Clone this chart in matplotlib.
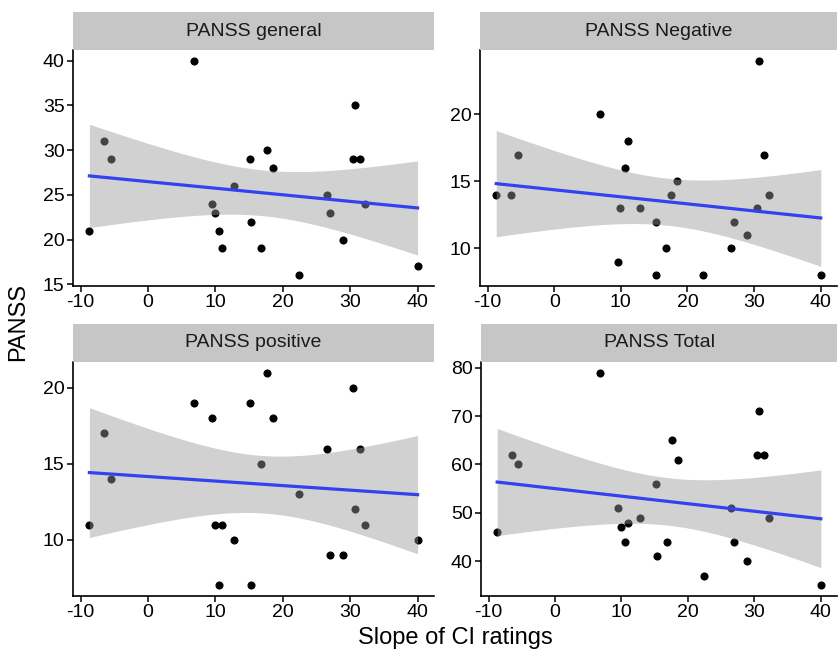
import numpy as np
import matplotlib
matplotlib.use("Agg")
import matplotlib.pyplot as plt

plt.rcParams['font.family'] = ['Liberation Sans', 'DejaVu Sans']
plt.rcParams['axes.unicode_minus'] = False

# slope of CI ratings (same subjects in every panel)
slope = [-8.7, -6.5, -5.5, 6.8, 9.5, 9.9, 10.6, 11.0, 12.8, 15.2, 15.3, 16.8,
         17.6, 18.5, 22.4, 26.5, 27.0, 28.9, 30.4, 30.7, 31.5, 32.2, 40.0]

panss_general = [21, 31, 29, 40, 24, 23, 21, 19, 26, 29, 22, 19,
                 30, 28, 16, 25, 23, 20, 29, 35, 29, 24, 17]
panss_negative = [14, 14, 17, 20, 9, 13, 16, 18, 13, 8, 12, 10,
                  14, 15, 8, 10, 12, 11, 13, 24, 17, 14, 8]
panss_positive = [11, 17, 14, 19, 18, 11, 7, 11, 10, 19, 7, 15,
                  21, 18, 13, 16, 9, 9, 20, 12, 16, 11, 10]
panss_total = [46, 62, 60, 79, 51, 47, 44, 48, 49, 56, 41, 44,
               65, 61, 37, 51, 44, 40, 62, 71, 62, 49, 35]

titles = ["PANSS general", "PANSS Negative", "PANSS positive", "PANSS Total"]
series = [panss_general, panss_negative, panss_positive, panss_total]
yticks = [[15, 20, 25, 30, 35, 40], [10, 15, 20], [10, 15, 20], [40, 50, 60, 70, 80]]
xticks = [-10, 0, 10, 20, 30, 40]

W, H = 838, 659
# panel boxes in pixels: left, right, top, bottom
boxes = [(73, 434, 50, 286), (480, 837, 50, 286),
         (73, 434, 362, 596), (481, 837, 362, 596)]
strip_h = 38

T975 = 2.0796  # t quantile, df = 21


def lm_band(x, y, xs):
    x = np.asarray(x, float)
    y = np.asarray(y, float)
    n = len(x)
    b, a = np.polyfit(x, y, 1)
    res = y - (a + b * x)
    s = np.sqrt(np.sum(res ** 2) / (n - 2))
    sxx = np.sum((x - x.mean()) ** 2)
    fit = a + b * xs
    se = s * np.sqrt(1.0 / n + (xs - x.mean()) ** 2 / sxx)
    return fit, fit - T975 * se, fit + T975 * se


fig = plt.figure(figsize=(W / 100, H / 100), dpi=100)

x = np.asarray(slope, float)
xs = np.linspace(x.min(), x.max(), 100)
xr = x.max() - x.min()

for i in range(4):
    l, r, t, b = boxes[i]
    ax = fig.add_axes([l / W, 1 - b / H, (r - l) / W, (b - t) / H])
    y = np.asarray(series[i], float)
    fit, lo, hi = lm_band(x, y, xs)

    ax.scatter(x, y, s=34, color='black', zorder=2, linewidths=0)
    ax.fill_between(xs, lo, hi, color='#999999', alpha=0.45, linewidth=0, zorder=3)
    ax.plot(xs, fit, color='#3341F0', lw=2.3, zorder=4)

    ymin = min(y.min(), lo.min())
    ymax = max(y.max(), hi.max())
    yr = ymax - ymin
    ax.set_xlim(x.min() - 0.05 * xr, x.max() + 0.05 * xr)
    ax.set_ylim(ymin - 0.05 * yr, ymax + 0.05 * yr)
    ax.set_xticks(xticks)
    ax.set_yticks(yticks[i])
    for sp in ['top', 'right']:
        ax.spines[sp].set_visible(False)
    for sp in ['left', 'bottom']:
        ax.spines[sp].set_linewidth(1.2)
    ax.tick_params(direction='out', length=4, width=1.1, labelsize=14,
                   colors='black', pad=2)

    # strip
    sax = fig.add_axes([l / W, 1 - t / H, (r - l) / W, strip_h / H])
    sax.set_facecolor('#C6C6C6')
    sax.set_xticks([])
    sax.set_yticks([])
    for sp in sax.spines.values():
        sp.set_visible(False)
    sax.text(0.5, 0.5, titles[i], ha='center', va='center', fontsize=14,
             color='#1a1a1a', transform=sax.transAxes)

fig.text(18 / W, 1 - 322 / H, "PANSS", rotation=90, ha='center', va='center', fontsize=17)
fig.text(455 / W, 1 - 638 / H, "Slope of CI ratings", ha='center', va='center', fontsize=17)

fig.savefig("out.png", dpi=100)
